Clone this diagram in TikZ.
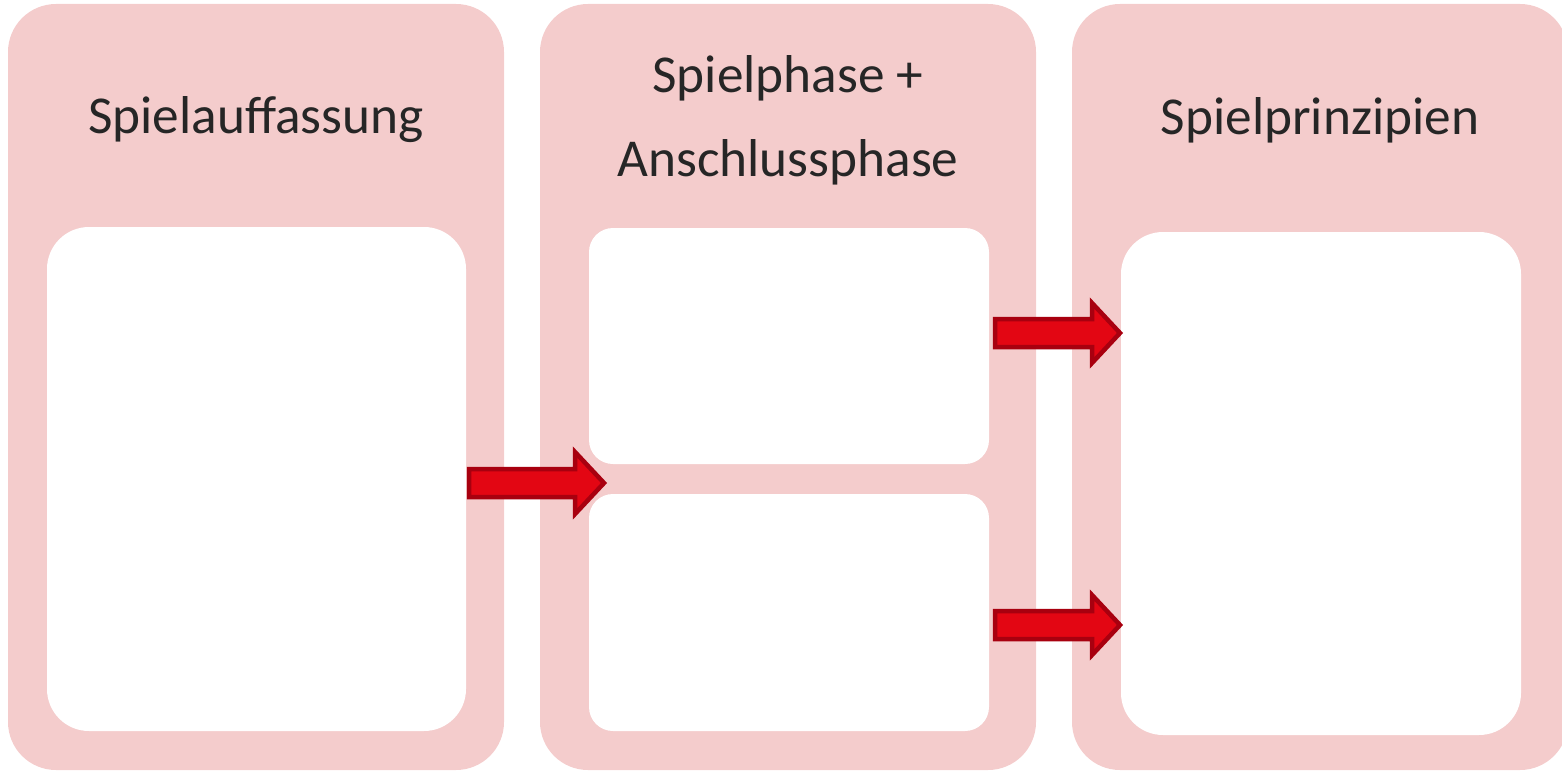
\documentclass[tikz,border=0pt]{standalone}
\usepackage{fontspec}
\setmainfont{Carlito}
\definecolor{panel}{RGB}{244,204,204}
\definecolor{arrowfill}{RGB}{227,6,19}
\definecolor{arrowline}{RGB}{168,0,15}
\definecolor{txt}{RGB}{38,38,38}
\begin{document}
\begin{tikzpicture}[x=1bp,y=-1bp,
  panelbox/.style={fill=panel, rounded corners=48bp},
  innerbox/.style={fill=white, rounded corners=#1},
  redarrow/.style={fill=arrowfill, draw=arrowline, line width=4.5bp, line join=miter},
  title/.style={text=txt, font=\fontsize{53.5}{84}\selectfont, align=center, inner sep=0pt}]
\useasboundingbox (0,0) rectangle (1562,771);
% panels
\fill[panelbox] (8,4) rectangle (504,770);
\fill[panelbox] (540,4) rectangle (1036,770);
\fill[panelbox] (1072,4) rectangle (1568,770);
% inner boxes
\fill[innerbox=42bp] (47,227) rectangle (466,731);
\fill[innerbox=24bp] (589,228) rectangle (989,464);
\fill[innerbox=24bp] (589,494) rectangle (989,731);
\fill[innerbox=42bp] (1121,232) rectangle (1521,735);
% titles
\node[title] (t1) at (256,120) {Spielauffassung};
\node[title] (t2) at (788,120) {Spielphase +\\Anschlussphase};
\node[title] (t3) at (1320,120) {Spielprinzipien};
% arrows
\draw[redarrow] (469,469) -- (575,469) -- (575,452) -- (604,483) -- (575,514) -- (575,497) -- (469,497) -- cycle;
\draw[redarrow] (995,319) -- (1092,319) -- (1092,303) -- (1120,333) -- (1092,363) -- (1092,347) -- (995,347) -- cycle;
\draw[redarrow] (995,611) -- (1092,611) -- (1092,595) -- (1120,625) -- (1092,655) -- (1092,639) -- (995,639) -- cycle;
\end{tikzpicture}
\end{document}
